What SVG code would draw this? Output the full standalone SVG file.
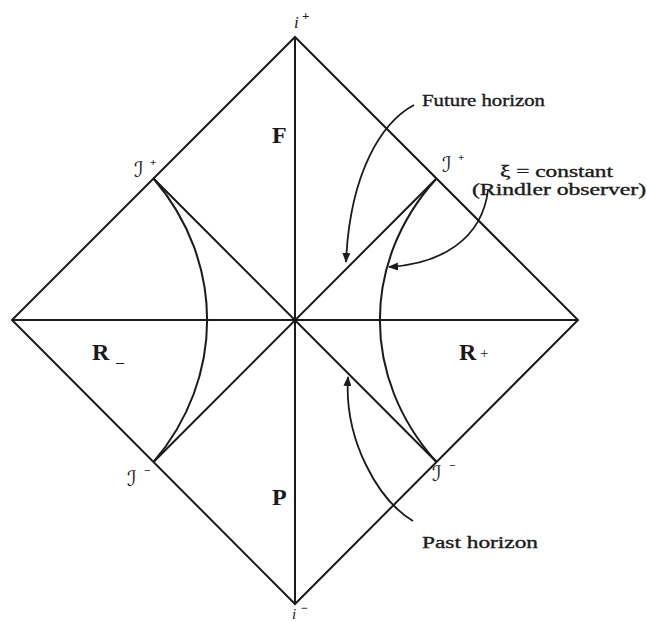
<svg xmlns="http://www.w3.org/2000/svg" width="647" height="622" viewBox="0 0 647 622">
<style>
.ln{fill:none;stroke:#1a1a1a;stroke-width:2;stroke-linejoin:miter}
.ar{fill:none;stroke:#1a1a1a;stroke-width:1.8}
.t{font-family:"Liberation Serif","Times New Roman",serif;fill:#1a1a1a}
.n{stroke:#1a1a1a;stroke-width:0.35}
.b{font-weight:bold}
.s{font-family:"DejaVu Serif","DejaVu Sans",serif;font-style:italic;fill:#1a1a1a}
</style>
<defs>
<marker id="ah" viewBox="0 0 10 10" refX="9" refY="5" markerWidth="10" markerHeight="8" markerUnits="userSpaceOnUse" orient="auto" preserveAspectRatio="none">
<path d="M0,0 L10,5 L0,10 z" fill="#1a1a1a"/>
</marker>
</defs>
<rect width="647" height="622" fill="#fff"/>
<g id="diagram">
<path class="ln" d="M295,37 L578,320 L295,604 L12,320 Z"/>
<path class="ln" d="M12,320 L578,320 M295,37 L295,604"/>
<path class="ln" d="M153.5,178.5 L436.5,462 M436.5,178.5 L153.5,462"/>
<path class="ln" d="M436.5,178.5 C361,262 361,378 436.5,462"/>
<path class="ln" d="M153.5,178.5 C225,262 225,378 153.5,462"/>
</g>
<g id="connectors">
<path class="ar" d="M414,105 C382,122 350,172 346,262" marker-end="url(#ah)"/>
<path class="ar" d="M488,190 C482,240 440,264 389,267" marker-end="url(#ah)"/>
<path class="ar" d="M413,521 C378,500 344,440 348,377" marker-end="url(#ah)"/>
</g>
<g id="labels">
<text class="t" x="294" y="28" font-size="17" font-style="italic">i</text>
<text class="t" x="302" y="20" font-size="13" font-weight="bold">+</text>
<text class="t" x="292" y="619" font-size="15" font-style="italic">i</text>
<text class="t" x="301" y="612" font-size="12" font-weight="bold">−</text>
<text class="t b" x="272" y="143" font-size="24">F</text>
<text class="t b" x="272" y="505" font-size="24">P</text>
<text class="t b" x="92" y="360" font-size="24">R</text>
<text class="t" x="116" y="362" font-size="16">_</text>
<text class="t b" x="459" y="360" font-size="24">R</text>
<text class="t" x="480" y="358" font-size="15">+</text>
<text class="s" x="134" y="177" font-size="21">ℐ</text>
<text class="t" x="150" y="166" font-size="11" font-weight="bold">+</text>
<text class="s" x="442" y="172" font-size="21">ℐ</text>
<text class="t" x="458" y="161" font-size="11" font-weight="bold">+</text>
<text class="s" x="127" y="486" font-size="21">ℐ</text>
<text class="t" x="144" y="474" font-size="11" font-weight="bold">−</text>
<text class="s" x="432" y="481" font-size="21">ℐ</text>
<text class="t" x="449" y="469" font-size="11" font-weight="bold">−</text>
<text class="t n" x="422" y="106" font-size="17" textLength="123" lengthAdjust="spacingAndGlyphs">Future horizon</text>
<text class="t n" x="500" y="177" font-size="16" textLength="113" lengthAdjust="spacingAndGlyphs">ξ = constant</text>
<text class="t n" x="472" y="195" font-size="16" textLength="174" lengthAdjust="spacingAndGlyphs">(Rindler observer)</text>
<text class="t n" x="422" y="548" font-size="17" textLength="116" lengthAdjust="spacingAndGlyphs">Past horizon</text>
</g>
</svg>
